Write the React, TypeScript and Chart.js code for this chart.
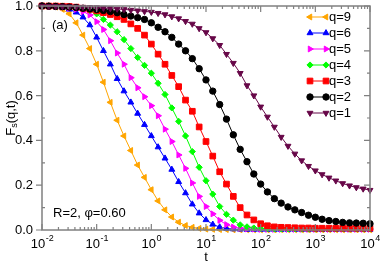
import React, { useEffect, useRef } from "react";
import { Chart, registerables } from "chart.js";
import { drawPoint } from "chart.js/helpers";

Chart.register(...registerables);

// time points (markers)
const tValues = [
  0.01, 0.0133, 0.0178, 0.0237, 0.0316, 0.0422, 0.0562, 0.075,
  0.1, 0.133, 0.178, 0.237, 0.316, 0.422, 0.562, 0.75,
  1, 1.33, 1.78, 2.37, 3.16, 4.22, 5.62, 7.5,
  10, 13.3, 17.8, 23.7, 31.6, 42.2, 56.2, 75,
  100, 133, 178, 237, 316, 422, 562, 750,
  1000, 1330, 1780, 2370, 3160, 4220, 5620, 7500,
  10000,
];

const q9 = [
  1.0, 0.998, 0.995, 0.985, 0.965, 0.925, 0.87, 0.81,
  0.74, 0.66, 0.57, 0.49, 0.42, 0.355, 0.29, 0.235,
  0.18, 0.13, 0.09, 0.058, 0.035, 0.02, 0.012, 0.007,
  0.004, 0.003, 0.002, 0.002, 0.001, 0.001, 0.001, 0.001,
  0.001, 0.001, 0.001, 0.001, 0.001, 0.001, 0.001, 0.001,
  0.001, 0.001, 0.001, 0.001, 0.001, 0.001, 0.001, 0.001,
  0.001,
];
const q6 = [
  1.0, 0.999, 0.997, 0.993, 0.985, 0.972, 0.95, 0.915,
  0.86, 0.8, 0.74, 0.675, 0.62, 0.57, 0.52, 0.47,
  0.42, 0.37, 0.32, 0.27, 0.215, 0.165, 0.115, 0.075,
  0.045, 0.025, 0.013, 0.007, 0.004, 0.003, 0.002, 0.002,
  0.002, 0.002, 0.002, 0.002, 0.002, 0.002, 0.002, 0.002,
  0.002, 0.002, 0.002, 0.002, 0.002, 0.002, 0.002, 0.002,
  0.002,
];
const q5 = [
  1.0, 0.999, 0.998, 0.995, 0.99, 0.985, 0.975, 0.96,
  0.93, 0.895, 0.845, 0.79, 0.74, 0.68, 0.635, 0.595,
  0.555, 0.51, 0.45, 0.395, 0.335, 0.275, 0.21, 0.15,
  0.105, 0.072, 0.043, 0.024, 0.013, 0.008, 0.005, 0.004,
  0.003, 0.003, 0.003, 0.003, 0.003, 0.003, 0.003, 0.003,
  0.003, 0.003, 0.003, 0.003, 0.003, 0.003, 0.003, 0.003,
  0.003,
];
const q4 = [
  1.0, 1.0, 0.999, 0.998, 0.996, 0.993, 0.988, 0.98,
  0.965, 0.94, 0.915, 0.885, 0.85, 0.81, 0.77, 0.735,
  0.7, 0.655, 0.605, 0.545, 0.485, 0.42, 0.35, 0.28,
  0.22, 0.16, 0.105, 0.07, 0.044, 0.023, 0.014, 0.009,
  0.007, 0.006, 0.005, 0.005, 0.005, 0.005, 0.005, 0.005,
  0.005, 0.005, 0.005, 0.005, 0.005, 0.005, 0.005, 0.005,
  0.005,
];
const q3 = [
  1.0, 1.0, 1.0, 0.999, 0.998, 0.995, 0.99, 0.985,
  0.978, 0.97, 0.962, 0.952, 0.94, 0.92, 0.9, 0.87,
  0.83, 0.785, 0.74, 0.69, 0.64, 0.58, 0.53, 0.46,
  0.395, 0.33, 0.26, 0.205, 0.15, 0.1, 0.067, 0.045,
  0.028, 0.019, 0.014, 0.012, 0.011, 0.01, 0.009, 0.009,
  0.008, 0.008, 0.008, 0.008, 0.008, 0.008, 0.008, 0.008,
  0.008,
];
const q2 = [
  1.0, 0.999, 0.998, 0.997, 0.995, 0.993, 0.99, 0.987,
  0.984, 0.98, 0.975, 0.97, 0.962, 0.955, 0.948, 0.94,
  0.925, 0.905, 0.885, 0.86, 0.83, 0.8, 0.765, 0.72,
  0.67, 0.62, 0.56, 0.495, 0.425, 0.36, 0.305, 0.25,
  0.205, 0.17, 0.14, 0.12, 0.103, 0.09, 0.078, 0.066,
  0.057, 0.048, 0.042, 0.038, 0.034, 0.032, 0.031, 0.03,
  0.028,
];
const q1 = [
  1.0, 0.999, 0.999, 0.998, 0.997, 0.996, 0.995, 0.994,
  0.993, 0.991, 0.989, 0.987, 0.985, 0.982, 0.979, 0.976,
  0.973, 0.968, 0.962, 0.953, 0.944, 0.932, 0.92, 0.9,
  0.882, 0.855, 0.825, 0.785, 0.745, 0.7, 0.645, 0.6,
  0.55, 0.505, 0.46, 0.415, 0.375, 0.34, 0.31, 0.285,
  0.265, 0.248, 0.233, 0.22, 0.208, 0.198, 0.19, 0.184,
  0.178,
];

const seriesLabels = ["q=9", "q=6", "q=5", "q=4", "q=3", "q=2", "q=1"];
const seriesValues = [q9, q6, q5, q4, q3, q2, q1];
const seriesColors = ["#FFA500", "#0000FF", "#FF00FF", "#00FF00", "#FF0000", "#000000", "#670748"];
const seriesStyles = ["triangle", "triangle", "triangle", "rectRot", "rect", "circle", "triangle"];
const seriesRotations = [-90, 0, 90, 0, 0, 0, 180];
const seriesRadius = [3.4, 3.4, 3.4, 3.1, 4, 3.2, 3.4];

const xDecades = [-2, -1, 0, 1, 2, 3, 4];
const yMajorTicks = [0, 0.2, 0.4, 0.6, 0.8, 1.0];
const yMajorLabels = ["0.0", "0.2", "0.4", "0.6", "0.8", "1.0"];
const yMinorTicks = [0.1, 0.3, 0.5, 0.7, 0.9];

const FONT = '"Liberation Sans", Arial, Helvetica, sans-serif';

const decorPlugin = {
  id: "decor",
  afterDatasetsDraw(chart: any) {
    const ctx: CanvasRenderingContext2D = chart.ctx;
    const { left, right, top, bottom } = chart.chartArea;
    const xs = chart.scales.x;
    const ys = chart.scales.y;
    ctx.save();
    // frame
    ctx.strokeStyle = "#808080";
    ctx.lineWidth = 1.5;
    ctx.strokeRect(left, top, right - left, bottom - top);
    ctx.lineWidth = 1.2;
    ctx.beginPath();
    // x ticks
    for (let i = 0; i < xDecades.length; i++) {
      const e = xDecades[i];
      const px = xs.getPixelForValue(Math.pow(10, e));
      ctx.moveTo(px, bottom);
      ctx.lineTo(px, bottom - 6);
      ctx.moveTo(px, top);
      ctx.lineTo(px, top + 6);
      if (i < xDecades.length - 1) {
        for (let k = 2; k <= 9; k++) {
          const mx = xs.getPixelForValue(k * Math.pow(10, e));
          ctx.moveTo(mx, bottom);
          ctx.lineTo(mx, bottom - 3);
          ctx.moveTo(mx, top);
          ctx.lineTo(mx, top + 3);
        }
      }
    }
    // y ticks
    for (const v of yMajorTicks) {
      const py = ys.getPixelForValue(v);
      ctx.moveTo(left - 6, py);
      ctx.lineTo(left, py);
      ctx.moveTo(right, py);
      ctx.lineTo(right - 6, py);
    }
    for (const v of yMinorTicks) {
      const py = ys.getPixelForValue(v);
      ctx.moveTo(left, py);
      ctx.lineTo(left + 3, py);
      ctx.moveTo(right, py);
      ctx.lineTo(right - 3, py);
    }
    ctx.stroke();

    // y labels
    ctx.fillStyle = "#000";
    ctx.font = `13px ${FONT}`;
    ctx.textAlign = "right";
    ctx.textBaseline = "middle";
    yMajorTicks.forEach((v, i) => {
      ctx.fillText(yMajorLabels[i], left - 9, ys.getPixelForValue(v) + 0.5);
    });

    // x labels 10^e
    ctx.textAlign = "left";
    ctx.textBaseline = "alphabetic";
    for (const e of xDecades) {
      const px = xs.getPixelForValue(Math.pow(10, e));
      ctx.font = `13px ${FONT}`;
      const wb = ctx.measureText("10").width;
      ctx.font = `9px ${FONT}`;
      const es = String(e);
      const we = ctx.measureText(es).width;
      const x0 = px - (wb + we) / 2;
      ctx.font = `13px ${FONT}`;
      ctx.fillText("10", x0, bottom + 18);
      ctx.font = `9px ${FONT}`;
      ctx.fillText(es, x0 + wb + 0.5, bottom + 11);
    }

    // x title
    ctx.font = `13px ${FONT}`;
    ctx.textAlign = "center";
    ctx.fillText("t", (left + right) / 2, bottom + 31);

    // y title F_s(q,t)
    ctx.save();
    ctx.translate(11, (top + bottom) / 2);
    ctx.rotate(-Math.PI / 2);
    ctx.textAlign = "left";
    ctx.textBaseline = "middle";
    ctx.font = `13px ${FONT}`;
    const wF = ctx.measureText("F").width;
    const wR = ctx.measureText("(q,t)").width;
    ctx.font = `9px ${FONT}`;
    const wS = ctx.measureText("s").width;
    let tx = -(wF + wS + wR) / 2;
    ctx.font = `13px ${FONT}`;
    ctx.fillText("F", tx, 0);
    tx += wF;
    ctx.font = `9px ${FONT}`;
    ctx.fillText("s", tx, 4);
    tx += wS;
    ctx.font = `13px ${FONT}`;
    ctx.fillText("(q,t)", tx, 0);
    ctx.restore();

    // annotations
    ctx.font = `13px ${FONT}`;
    ctx.textAlign = "left";
    ctx.textBaseline = "middle";
    ctx.fillText("(a)", left + 10, top + 19);
    ctx.fillText("R=2, \u03c6=0.60", left + 11, bottom - 17);

    // legend
    const lx0 = 310;
    const lx1 = 326;
    for (let i = 0; i < seriesLabels.length; i++) {
      const ly = 17 + 16 * i;
      const c = seriesColors[i];
      ctx.strokeStyle = c;
      ctx.fillStyle = c;
      ctx.lineWidth = 1;
      ctx.beginPath();
      ctx.moveTo(lx0, ly);
      ctx.lineTo(lx1, ly);
      ctx.stroke();
      const opts = {
        pointStyle: seriesStyles[i],
        rotation: seriesRotations[i],
        radius: seriesRadius[i],
        borderWidth: 1,
      };
      drawPoint(ctx, opts as any, lx0, ly);
      drawPoint(ctx, opts as any, lx1, ly);
      ctx.fillStyle = "#000";
      ctx.font = `13px ${FONT}`;
      ctx.fillText(seriesLabels[i], 329, ly + 0.5);
    }
    ctx.restore();
  },
};

export default function App() {
  const canvasRef = useRef<HTMLCanvasElement | null>(null);

  useEffect(() => {
    document.body.style.margin = "0";
    const canvas = canvasRef.current;
    if (!canvas) return;
    const datasets = seriesLabels.map((label, i) => ({
      label,
      data: tValues.map((t, j) => ({ x: t, y: seriesValues[i][j] })),
      borderColor: seriesColors[i],
      backgroundColor: seriesColors[i],
      pointBorderColor: seriesColors[i],
      pointBackgroundColor: seriesColors[i],
      borderWidth: 1,
      pointStyle: seriesStyles[i],
      pointRotation: seriesRotations[i],
      pointRadius: seriesRadius[i],
      pointBorderWidth: 1,
      tension: 0,
      clip: false as any,
      order: seriesLabels.length - 1 - i,
    }));
    const chart = new Chart(canvas, {
      type: "line",
      data: { datasets },
      options: {
        animation: false,
        responsive: false,
        maintainAspectRatio: false,
        devicePixelRatio: 1,
        layout: { padding: { left: 42, right: 12, top: 6, bottom: 34 } },
        plugins: { legend: { display: false }, tooltip: { enabled: false } },
        scales: {
          x: { type: "logarithmic", min: 0.01, max: 10000, display: false },
          y: { type: "linear", min: 0, max: 1, display: false },
        },
      },
      plugins: [decorPlugin],
    });
    return () => chart.destroy();
  }, []);

  return (
    <div style={{ width: 382, height: 264, background: "#fff" }}>
      <canvas ref={canvasRef} width={382} height={264} />
    </div>
  );
}
